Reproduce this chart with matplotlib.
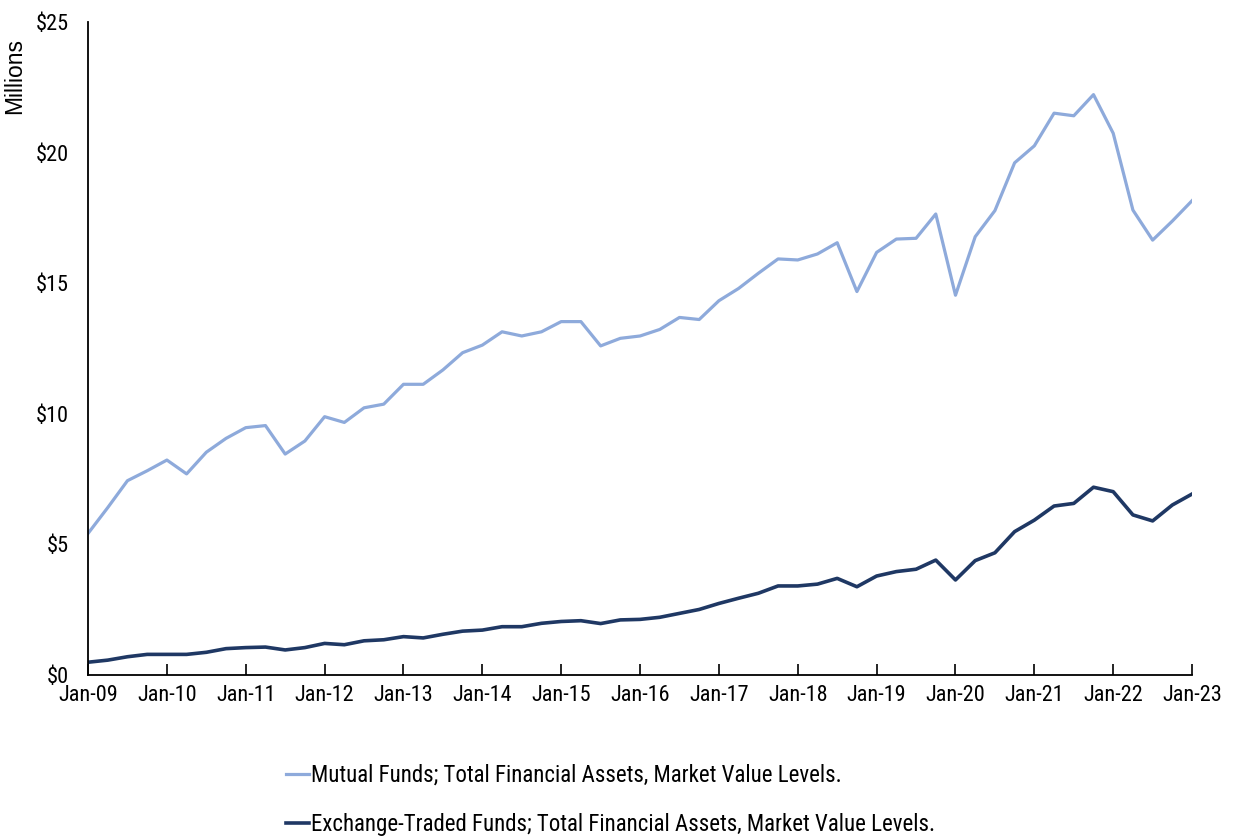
import numpy as np
import matplotlib
matplotlib.use("Agg")
import matplotlib.pyplot as plt
from matplotlib import font_manager

# quarterly values, Jan-09 .. Jan-23 ($ millions)
mutual_funds = [5.42, 6.41, 7.44, 7.82, 8.23, 7.70, 8.53, 9.06, 9.47, 9.55,
                8.46, 8.96, 9.89, 9.67, 10.23, 10.37, 11.13, 11.13, 11.68, 12.34,
                12.63, 13.14, 12.98, 13.14, 13.53, 13.53, 12.60, 12.89, 12.98, 13.23,
                13.69, 13.61, 14.33, 14.80, 15.38, 15.93, 15.89, 16.12, 16.55, 14.68,
                16.18, 16.69, 16.72, 17.65, 14.54, 16.78, 17.78, 19.61, 20.26, 21.51,
                21.41, 22.22, 20.74, 17.80, 16.65, 17.38, 18.16]
etfs = [0.49, 0.57, 0.70, 0.79, 0.79, 0.79, 0.87, 1.01, 1.05, 1.07,
        0.96, 1.05, 1.21, 1.16, 1.31, 1.35, 1.47, 1.42, 1.56, 1.68,
        1.72, 1.85, 1.85, 1.98, 2.05, 2.08, 1.97, 2.11, 2.13, 2.21,
        2.36, 2.51, 2.74, 2.94, 3.13, 3.41, 3.41, 3.48, 3.70, 3.38,
        3.79, 3.96, 4.05, 4.40, 3.64, 4.38, 4.68, 5.49, 5.93, 6.47,
        6.57, 7.19, 7.02, 6.13, 5.90, 6.51, 6.93]
year_labels = ["Jan-%02d" % y for y in range(9, 24)]
y_ticks = [0, 5, 10, 15, 20, 25]

names = {f.name for f in font_manager.fontManager.ttflist}
narrow = next((n for n in ["Liberation Sans Narrow", "Roboto Condensed", "Arial Narrow",
                           "DejaVu Sans Condensed"] if n in names), "DejaVu Sans")
plt.rcParams["font.family"] = [narrow, "DejaVu Sans"]

x = np.arange(len(mutual_funds))
fig = plt.figure(figsize=(12.33, 8.4), dpi=100)
ax = fig.add_axes([0.0714, 0.1964, 0.8954, 0.7774])
ax.plot(x, mutual_funds, color="#8eaadb", lw=2.3,
        label="Mutual Funds; Total Financial Assets, Market Value Levels.")
ax.plot(x, etfs, color="#1f3864", lw=2.6,
        label="Exchange-Traded Funds; Total Financial Assets, Market Value Levels.")

ax.set_xlim(0, len(x) - 1)
ax.set_ylim(0, 25)
ax.set_xticks(x[::4])
ax.set_xticklabels(year_labels)
ax.set_yticks(y_ticks)
ax.set_yticklabels(["$%d" % v for v in y_ticks])
ax.tick_params(axis="x", direction="in", length=8, width=1.2, pad=7, labelsize=16)
ax.tick_params(axis="y", length=0, pad=14, labelsize=16)
for s in ["top", "right"]:
    ax.spines[s].set_visible(False)
for s in ["left", "bottom"]:
    ax.spines[s].set_linewidth(1.3)

ax.set_ylabel("Millions", family=["Liberation Sans", "DejaVu Sans"], fontsize=16.5)
ax.yaxis.set_label_coords(-0.056, 0.917)

fig.legend(loc="lower center", bbox_to_anchor=(0.495, -0.02), frameon=False, ncol=1,
           fontsize=16.5, handlelength=1.0, handletextpad=0.1, labelspacing=1.15)

fig.savefig("out.png")
